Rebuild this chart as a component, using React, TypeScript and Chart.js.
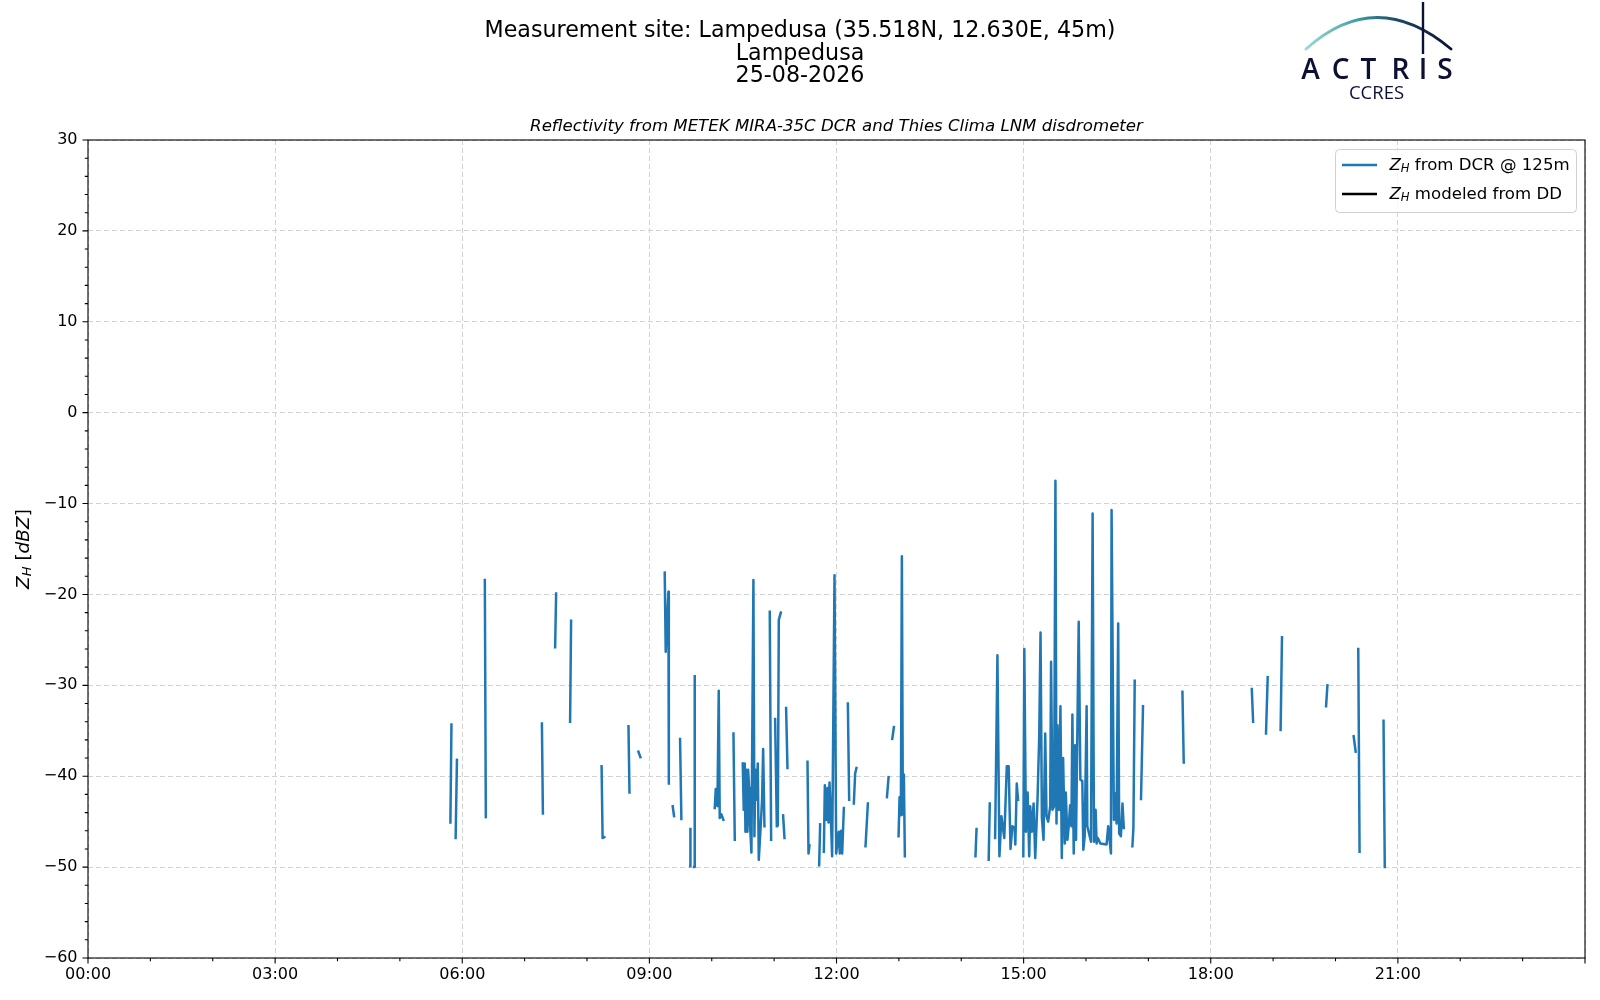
import React, { useEffect, useRef } from 'react';
import { Chart, registerables } from 'chart.js';

Chart.register(...registerables);

// ---------------- data ----------------
const titleLines = ['Measurement site: Lampedusa (35.518N, 12.630E, 45m)', 'Lampedusa', '25-08-2026'];
const subTitle = 'Reflectivity from METEK MIRA-35C DCR and Thies Clima LNM disdrometer';
const seriesLabels = [' from DCR @ 125m', ' modeled from DD'];
const seriesColors = ['#1f77b4', '#000000'];

// hours of day (null = gap in the record)
const dcrHours: (number | null)[] = [
  5.810, 5.827, null,
  5.894, 5.915, null,
  6.362, 6.378, null,
  7.277, 7.293, null,
  7.489, 7.505, null,
  7.729, 7.745, null,
  8.234, 8.250, 8.277, null,
  8.665, 8.681, null,
  8.824, 8.856, null,
  9.246, 9.262, 9.305, 9.312, null,
  9.374, 9.396, null,
  9.492, 9.513, null,
  9.655, 9.658, null,
  9.717, 9.727, null,
  10.048, 10.064, 10.091, 10.112, 10.128, 10.155, 10.187, null,
  10.348, 10.369, null,
  10.497, 10.513, 10.529, 10.540, 10.556, 10.572, 10.583, 10.599, 10.610, 10.636,
  10.668, 10.684, 10.700, 10.717, 10.738, 10.754, 10.781, 10.807, 10.824, 10.845, null,
  10.930, 10.952, null,
  11.016, 11.043, null,
  11.059, 11.075, 11.107, null,
  11.144, 11.166, null,
  11.192, 11.214, null,
  11.535, 11.551, 11.567, null,
  11.722, 11.738, null,
  11.797, 11.813, 11.840, 11.856, 11.872, 11.888, 11.909, 11.930, 11.968, 11.995,
  12.037, 12.053, 12.075, 12.091, 12.118, null,
  12.182, 12.203, null,
  12.278, 12.299, 12.320, null,
  12.465, 12.503, null,
  12.809, 12.835, null,
  12.894, 12.920, null,
  12.995, 13.011, 13.032, 13.048, 13.064, 13.080, 13.096, null,
  14.228, 14.245, null,
  14.440, 14.457, null,
  14.543, 14.580, 14.612, 14.644, 14.690, 14.730, 14.760, 14.790, 14.820, 14.856,
  14.867, 14.890, 14.910, null,
  14.995, 15.011, 15.037, 15.064, 15.090, 15.106, 15.133, 15.160, 15.186, 15.223,
  15.250, 15.271, 15.293, 15.319, 15.346, 15.367, 15.394, 15.426, 15.440, 15.463,
  15.489, 15.510, 15.527, 15.543, 15.569, 15.590, 15.612, 15.633, 15.660, 15.676,
  15.702, 15.723, 15.745, 15.766, 15.782, 15.803, 15.824, 15.840, 15.856, 15.883,
  15.910, 15.941, 15.957, 15.979, 16.010, 16.021, 16.080, 16.106, 16.128, 16.154,
  16.170, 16.190, 16.230, 16.330, 16.356, 16.400, 16.410, 16.447, 16.468, 16.490,
  16.516, 16.532, 16.559, 16.585, 16.606, null,
  16.744, 16.760, 16.781, null,
  16.882, 16.914, null,
  17.546, 17.567, null,
  18.658, 18.679, null,
  18.886, 18.913, null,
  19.120, 19.142, null,
  19.849, 19.870, null,
  20.291, 20.323, null,
  20.365, 20.386, null,
  20.770, 20.790,
];

// reflectivity Z_H [dBZ] from DCR at 125 m (same order as dcrHours)
const dcrDbz: (number | null)[] = [
  -45.1, -34.3, null,
  -46.8, -38.2, null,
  -18.4, -44.5, null,
  -34.2, -44.1, null,
  -25.8, -19.9, null,
  -34.0, -22.9, null,
  -38.9, -46.8, -46.7, null,
  -34.5, -41.8, null,
  -37.3, -37.9, null,
  -17.6, -26.3, -19.7, -40.8, null,
  -43.3, -44.4, null,
  -35.9, -44.7, null,
  -49.9, -45.8, null,
  -50.0, -29.0, null,
  -43.5, -41.4, -43.3, -30.6, -44.6, -44.2, -44.8, null,
  -35.3, -47.0, null,
  -38.6, -43.7, -38.6, -46.1, -39.3, -46.1, -39.3, -41.3, -44.8, -48.4,
  -18.4, -46.6, -39.3, -42.6, -38.6, -49.2, -45.9, -42.6, -37.0, -45.5, null,
  -21.9, -47.0, null,
  -33.7, -45.5, null,
  -45.4, -22.8, -22.0, null,
  -44.3, -46.8, null,
  -32.5, -39.1, null,
  -38.4, -48.5, -47.6, null,
  -49.8, -45.3, null,
  -48.3, -41.0, -44.8, -41.3, -45.1, -40.7, -44.5, -48.8, -17.9, -48.5,
  -46.1, -48.5, -46.0, -48.5, -43.5, null,
  -32.0, -42.6, null,
  -43.0, -39.7, -39.1, null,
  -47.7, -43.0, null,
  -42.3, -40.1, null,
  -35.9, -34.6, null,
  -46.6, -42.3, -44.3, -15.8, -44.2, -39.8, -48.8, null,
  -48.8, -45.8, null,
  -49.2, -43.0, null,
  -46.8, -26.7, -48.8, -44.4, -46.8, -38.9, -38.9, -48.0, -45.5, -45.7,
  -47.5, -40.8, -42.6, null,
  -48.8, -26.0, -46.1, -41.8, -48.8, -43.3, -46.1, -43.0, -49.0, -42.5,
  -35.6, -24.2, -44.6, -47.0, -35.3, -44.4, -45.0, -43.3, -27.4, -43.7,
  -43.3, -7.5, -45.2, -34.4, -43.7, -32.3, -49.0, -38.0, -47.4, -41.8,
  -47.0, -45.5, -43.2, -45.5, -33.2, -48.5, -36.6, -47.0, -38.2, -23.0,
  -40.4, -40.5, -48.1, -46.6, -32.3, -45.5, -47.2, -11.1, -47.2, -43.7,
  -47.4, -46.8, -47.4, -47.5, -45.5, -48.5, -10.7, -44.8, -41.9, -45.2,
  -23.2, -46.3, -46.6, -43.0, -45.7, null,
  -47.7, -45.7, -29.5, null,
  -42.5, -32.3, null,
  -30.7, -38.5, null,
  -30.4, -34.0, null,
  -35.3, -29.1, null,
  -34.9, -24.7, null,
  -32.3, -30.0, null,
  -35.6, -37.3, null,
  -26.0, -48.3, null,
  -33.9, -50.0,
];

// Z_H modeled from disdrometer DSD: no valid values for this day
const ddHours: number[] = [];
const ddDbz: number[] = [];

const xMin = 0;
const xMax = 24;
const xMajorStep = 3;
const yMin = -60;
const yMax = 30;
const yMajorStep = 10;
const yMinorStep = 2;

// ---------------- helpers ----------------
const FONT = '"DejaVu Sans", "Liberation Sans", sans-serif';
const GRID = '#d2d2d2';

function fmtHour(v: number) {
  return (v < 10 ? '0' : '') + v + ':00';
}
function fmtNum(v: number) {
  return v < 0 ? '\u2212' + Math.abs(v) : String(v);
}

type Run = { text: string; font: string; dy?: number };
function runsWidth(ctx: CanvasRenderingContext2D, runs: Run[]) {
  let w = 0;
  for (const r of runs) {
    ctx.font = r.font;
    w += ctx.measureText(r.text).width;
  }
  return w;
}
function drawRuns(ctx: CanvasRenderingContext2D, runs: Run[], x: number, y: number) {
  let cx = x;
  for (const r of runs) {
    ctx.font = r.font;
    ctx.fillText(r.text, cx, y + (r.dy || 0));
    cx += ctx.measureText(r.text).width;
  }
}
function zhRuns(size: number, rest: string): Run[] {
  return [
    { text: 'Z', font: `italic ${size}px ${FONT}` },
    { text: 'H', font: `italic ${(size * 0.7).toFixed(1)}px ${FONT}`, dy: size * 0.22 },
    { text: rest, font: `${size}px ${FONT}` },
  ];
}

const decorPlugin = {
  id: 'decor',
  beforeDraw(chart: any) {
    const ctx = chart.ctx as CanvasRenderingContext2D;
    ctx.save();
    ctx.fillStyle = '#ffffff';
    ctx.fillRect(0, 0, chart.width, chart.height);
    ctx.restore();
  },
  afterDraw(chart: any) {
    const ctx = chart.ctx as CanvasRenderingContext2D;
    const area = chart.chartArea;
    const xs = chart.scales.x;
    const ys = chart.scales.y;
    ctx.save();

    // frame
    ctx.strokeStyle = '#000';
    ctx.lineWidth = 1.1;
    ctx.setLineDash([]);
    ctx.strokeRect(area.left, area.top, area.right - area.left, area.bottom - area.top);

    // tick marks
    ctx.beginPath();
    for (let h = xMin; h <= xMax; h += 1) {
      const px = xs.getPixelForValue(h);
      const len = h % xMajorStep === 0 ? 5.5 : 3.2;
      ctx.moveTo(px, area.bottom);
      ctx.lineTo(px, area.bottom + len);
    }
    for (let v = yMin; v <= yMax; v += yMinorStep) {
      const py = ys.getPixelForValue(v);
      const len = v % yMajorStep === 0 ? 5.5 : 3.2;
      ctx.moveTo(area.left, py);
      ctx.lineTo(area.left - len, py);
    }
    ctx.stroke();

    // y axis label
    ctx.fillStyle = '#000';
    ctx.textBaseline = 'middle';
    ctx.textAlign = 'left';
    const yl: Run[] = [
      { text: 'Z', font: `italic 18.5px ${FONT}` },
      { text: 'H', font: `italic 13px ${FONT}`, dy: 4 },
      { text: ' [', font: `18.5px ${FONT}` },
      { text: 'dBZ', font: `italic 18.5px ${FONT}` },
      { text: ']', font: `18.5px ${FONT}` },
    ];
    ctx.save();
    ctx.translate(24, (area.top + area.bottom) / 2);
    ctx.rotate(-Math.PI / 2);
    drawRuns(ctx, yl, -runsWidth(ctx, yl) / 2, 0);
    ctx.restore();

    // titles
    ctx.textAlign = 'center';
    ctx.font = `22.2px ${FONT}`;
    const tY = [31, 54, 76.5];
    titleLines.forEach((t, i) => ctx.fillText(t, chart.width / 2, tY[i]));
    ctx.font = `italic 16.6px ${FONT}`;
    ctx.fillText(subTitle, (area.left + area.right) / 2, 127);

    // ACTRIS logo
    const navy = '#0c1134';
    const g = ctx.createLinearGradient(1306, 0, 1451, 0);
    g.addColorStop(0, 'rgba(120,200,198,0.75)');
    g.addColorStop(0.35, '#3f9ea3');
    g.addColorStop(0.62, '#1c4a66');
    g.addColorStop(1, navy);
    ctx.strokeStyle = g;
    ctx.lineWidth = 2.8;
    ctx.lineCap = 'round';
    ctx.beginPath();
    ctx.moveTo(1306, 49);
    ctx.quadraticCurveTo(1376, -14, 1451, 49);
    ctx.stroke();
    ctx.strokeStyle = navy;
    ctx.lineWidth = 2.4;
    ctx.lineCap = 'butt';
    ctx.beginPath();
    ctx.moveTo(1423, 2);
    ctx.lineTo(1423, 54);
    ctx.stroke();
    ctx.fillStyle = navy;
    ctx.textAlign = 'center';
    ctx.textBaseline = 'alphabetic';
    ctx.font = `600 28px "Open Sans", ${FONT}`;
    const letters = ['A', 'C', 'T', 'R', 'I', 'S'];
    const lx = [1310.5, 1340.5, 1368.5, 1400.5, 1423, 1445];
    letters.forEach((l, i) => ctx.fillText(l, lx[i], 78.5));
    ctx.font = `18.5px "Open Sans", ${FONT}`;
    ctx.fillText('CCRES', 1376.5, 98.5);

    // legend
    const bx = 1335.5, by = 149.5, bw = 241, bh = 63;
    ctx.beginPath();
    if ((ctx as any).roundRect) (ctx as any).roundRect(bx, by, bw, bh, 4);
    else ctx.rect(bx, by, bw, bh);
    ctx.fillStyle = 'rgba(255,255,255,0.8)';
    ctx.fill();
    ctx.strokeStyle = '#d0d0d0';
    ctx.lineWidth = 1;
    ctx.stroke();
    const rowsY = [165, 194];
    chart.data.datasets.forEach((ds: any, i: number) => {
      const ry = rowsY[i];
      ctx.strokeStyle = ds.borderColor;
      ctx.lineWidth = 2.5;
      ctx.beginPath();
      ctx.moveTo(1342, ry);
      ctx.lineTo(1377, ry);
      ctx.stroke();
      ctx.fillStyle = '#000';
      ctx.textAlign = 'left';
      ctx.textBaseline = 'middle';
      drawRuns(ctx, zhRuns(16.6, seriesLabels[i]), 1389.5, ry + 0.5);
    });

    ctx.restore();
  },
};

export default function App() {
  const ref = useRef<HTMLCanvasElement | null>(null);

  useEffect(() => {
    document.body.style.margin = '0';
    const canvas = ref.current;
    if (!canvas) return;

    const dcrPoints: { x: number; y: number | null }[] = [];
    let last = 0;
    dcrHours.forEach((h, i) => {
      const v = dcrDbz[i];
      if (h !== null) last = h;
      dcrPoints.push({ x: last, y: h === null ? null : v });
    });
    const ddPoints = ddHours.map((h, i) => ({ x: h, y: ddDbz[i] }));

    const chart = new Chart(canvas, {
      type: 'line',
      data: {
        datasets: [
          {
            label: 'Z_H' + seriesLabels[0],
            data: dcrPoints as any,
            borderColor: seriesColors[0],
            borderWidth: 2.5,
            pointRadius: 0,
            spanGaps: false,
            tension: 0,
            borderJoinStyle: 'round',
            borderCapStyle: 'square',
          },
          {
            label: 'Z_H' + seriesLabels[1],
            data: ddPoints as any,
            borderColor: seriesColors[1],
            borderWidth: 2.5,
            pointRadius: 0,
            spanGaps: false,
          },
        ],
      },
      options: {
        animation: false,
        responsive: false,
        maintainAspectRatio: false,
        devicePixelRatio: 1,
        layout: { padding: { top: 140, right: 15, bottom: 0, left: 0 } },
        plugins: {
          legend: { display: false },
          title: { display: false },
          tooltip: { enabled: false },
        },
        scales: {
          x: {
            type: 'linear',
            min: xMin,
            max: xMax,
            ticks: {
              stepSize: 1,
              autoSkip: false,
              maxRotation: 0,
              minRotation: 0,
              padding: 7,
              color: '#000',
              font: { family: FONT, size: 16 },
              callback: (v: any) => (v % xMajorStep === 0 && v < xMax ? fmtHour(v) : ''),
            },
            grid: {
              color: (c: any) => (c.tick && c.tick.value % xMajorStep === 0 ? GRID : 'rgba(0,0,0,0)'),
              lineWidth: 1,
              drawTicks: false,
            },
            border: { display: false, dash: [5, 3] },
            afterFit: (s: any) => {
              s.height = 42;
            },
          },
          y: {
            type: 'linear',
            min: yMin,
            max: yMax,
            ticks: {
              stepSize: yMinorStep,
              autoSkip: false,
              padding: 10.5,
              color: '#000',
              font: { family: FONT, size: 16 },
              callback: (v: any) => (v % yMajorStep === 0 ? fmtNum(v) : ''),
            },
            grid: {
              color: (c: any) => (c.tick && c.tick.value % yMajorStep === 0 ? GRID : 'rgba(0,0,0,0)'),
              lineWidth: 1,
              drawTicks: false,
            },
            border: { display: false, dash: [5, 3] },
            afterFit: (s: any) => {
              s.width = 88;
            },
          },
        },
      },
      plugins: [decorPlugin],
    });

    return () => chart.destroy();
  }, []);

  return (
    <div style={{ width: 1600, height: 1000 }}>
      <canvas ref={ref} width={1600} height={1000} style={{ display: 'block', width: 1600, height: 1000 }} />
    </div>
  );
}
